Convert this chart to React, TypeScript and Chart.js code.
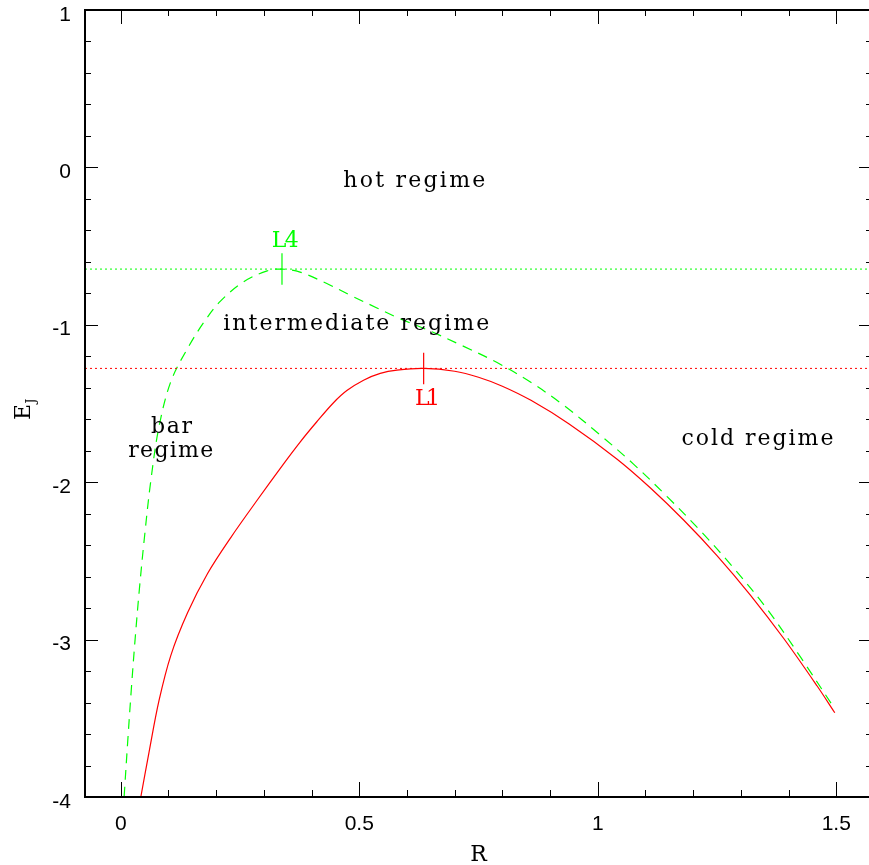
import React, { useEffect, useRef } from 'react';
import { Chart, registerables } from 'chart.js';

Chart.register(...registerables);

// ---- data ----
const redR = [0.042, 0.059, 0.080, 0.105, 0.140, 0.182, 0.231, 0.287, 0.341, 0.376, 0.411, 0.446, 0.474, 0.509, 0.544, 0.579, 0.635, 0.700, 0.750, 0.800, 0.860, 0.940, 1.040, 1.110, 1.180, 1.250, 1.320, 1.390, 1.460, 1.497];
const redE = [-4.00, -3.72, -3.39, -3.10, -2.83, -2.58, -2.35, -2.11, -1.885, -1.745, -1.616, -1.495, -1.418, -1.352, -1.309, -1.288, -1.277, -1.295, -1.333, -1.390, -1.480, -1.630, -1.852, -2.035, -2.240, -2.466, -2.717, -2.993, -3.295, -3.465];

const greenR = [0.007, 0.0145, 0.022, 0.030, 0.039, 0.050, 0.063, 0.080, 0.105, 0.140, 0.174, 0.209, 0.257, 0.307, 0.338, 0.376, 0.432, 0.481, 0.537, 0.579, 0.649, 0.719, 0.789, 0.858, 0.928, 1.005, 1.075, 1.145, 1.215, 1.285, 1.356, 1.426, 1.497];
const greenE = [-4.00, -3.65, -3.32, -3.00, -2.68, -2.34, -1.99, -1.65, -1.36, -1.15, -0.985, -0.850, -0.728, -0.657, -0.646, -0.665, -0.738, -0.812, -0.893, -0.953, -1.040, -1.137, -1.240, -1.362, -1.510, -1.700, -1.885, -2.090, -2.308, -2.545, -2.810, -3.115, -3.440];

const lagrangeLabels = ['L4', 'L1'];
const lagrangeR = [0.338, 0.635];
const lagrangeE = [-0.646, -1.277];

const xTickValues = [0, 0.5, 1, 1.5];
const xTickLabels = ['0', '0.5', '1', '1.5'];
const yTickValues = [1, 0, -1, -2, -3, -4];
const yTickLabels = ['1', '0', '-1', '-2', '-3', '-4'];

const xTitle = 'R';
const yTitleMain = 'E';
const yTitleSub = 'J';

const X_MIN = -0.075;
const X_MAX = 1.575;
const Y_MIN = -4;
const Y_MAX = 1;

// ---- styles / layout ----
const GREEN = '#00ff00';
const RED = '#ff0000';
const SERIF = '"DejaVu Serif", serif';
const SANS = '"Liberation Sans", Arial, sans-serif';

const annotations = [
  { text: 'hot regime', x: 0.6153, y: -0.1245, w: 142, color: '#000' },
  { text: 'intermediate regime', x: 0.4937, y: -1.033, w: 266, color: '#000' },
  { text: 'bar', x: 0.1063, y: -1.686, w: 41, color: '#000' },
  { text: 'regime', x: 0.1048, y: -1.840, w: 85, color: '#000' },
  { text: 'cold regime', x: 1.3348, y: -1.764, w: 152, color: '#000' },
  { text: lagrangeLabels[0], x: 0.3449, y: -0.504, w: 27, color: GREEN },
  { text: lagrangeLabels[1], x: 0.643, y: -1.5095, w: 25, color: RED },
];

const toXY = (xs: number[], ys: number[]) => xs.map((v, i) => ({ x: v, y: ys[i] }));

const axesPlugin = {
  id: 'pgAxes',
  afterDatasetsDraw(chart: any) {
    const { ctx, chartArea: a, scales } = chart;
    const x = scales.x;
    const y = scales.y;
    ctx.save();

    // ticks
    ctx.strokeStyle = '#000';
    ctx.lineWidth = 1;
    ctx.beginPath();
    for (let i = 0; i <= 15; i++) {
      const px = Math.round(x.getPixelForValue(i / 10)) + 0.5;
      const major = i % 5 === 0;
      const lb = major ? 15 : 7;
      const lt = major ? 14 : 6;
      ctx.moveTo(px, a.bottom);
      ctx.lineTo(px, a.bottom - lb);
      ctx.moveTo(px, a.top);
      ctx.lineTo(px, a.top + lt);
    }
    for (let i = 0; i <= 25; i++) {
      const py = Math.round(y.getPixelForValue(Y_MIN + i * 0.2)) + 0.5;
      const major = i % 5 === 0;
      const l = major ? 13 : 6;
      ctx.moveTo(a.left, py);
      ctx.lineTo(a.left + l, py);
      ctx.moveTo(a.right, py);
      ctx.lineTo(a.right - l, py);
    }
    ctx.stroke();

    // frame
    ctx.lineWidth = 2;
    ctx.strokeRect(a.left, a.top, a.right - a.left, a.bottom - a.top);

    // tick labels
    ctx.fillStyle = '#000';
    ctx.font = `21px ${SANS}`;
    ctx.textBaseline = 'alphabetic';
    ctx.textAlign = 'center';
    xTickValues.forEach((v, i) => {
      ctx.fillText(xTickLabels[i], x.getPixelForValue(v), a.bottom + 33);
    });
    ctx.textAlign = 'right';
    yTickValues.forEach((v, i) => {
      ctx.fillText(yTickLabels[i], 71, y.getPixelForValue(v) + 10.5);
    });

    // axis titles
    ctx.font = `22px ${SERIF}`;
    ctx.textAlign = 'center';
    ctx.fillText(xTitle, (a.left + a.right) / 2, 861);

    ctx.save();
    ctx.translate(29.5, 420);
    ctx.rotate(-Math.PI / 2);
    ctx.textAlign = 'left';
    ctx.font = `22px ${SERIF}`;
    ctx.fillText(yTitleMain, 0, 0);
    const ew = ctx.measureText(yTitleMain).width;
    ctx.font = `12px ${SERIF}`;
    ctx.fillText(yTitleSub, ew + 0.5, 5.5);
    ctx.restore();

    // annotations
    ctx.font = `22px ${SERIF}`;
    ctx.textAlign = 'left';
    annotations.forEach((an) => {
      (ctx as any).letterSpacing = '0px';
      const natural = ctx.measureText(an.text).width;
      const n = an.text.length;
      const ls = n > 1 ? (an.w - natural) / (n - 1) : 0;
      (ctx as any).letterSpacing = `${ls}px`;
      ctx.fillStyle = an.color;
      ctx.fillText(an.text, x.getPixelForValue(an.x) - an.w / 2, y.getPixelForValue(an.y));
    });
    (ctx as any).letterSpacing = '0px';
    ctx.restore();
  },
};

export default function App() {
  const canvasRef = useRef<HTMLCanvasElement | null>(null);

  useEffect(() => {
    if (!canvasRef.current) return;
    const markerHalf = 0.1;
    const chart = new Chart(canvasRef.current, {
      type: 'line',
      data: {
        datasets: [
          {
            label: 'L4 level',
            data: [{ x: X_MIN, y: lagrangeE[0] }, { x: X_MAX, y: lagrangeE[0] }],
            borderColor: GREEN,
            borderWidth: 1,
            borderDash: [2, 3],
            pointRadius: 0,
          },
          {
            label: 'L1 level',
            data: [{ x: X_MIN, y: lagrangeE[1] }, { x: X_MAX, y: lagrangeE[1] }],
            borderColor: RED,
            borderWidth: 1,
            borderDash: [2, 3],
            pointRadius: 0,
          },
          {
            label: 'ZVC L4',
            data: toXY(greenR, greenE),
            borderColor: GREEN,
            borderWidth: 1.2,
            borderDash: [10, 7],
            pointRadius: 0,
            tension: 0.35,
          },
          {
            label: 'ZVC L1',
            data: toXY(redR, redE),
            borderColor: RED,
            borderWidth: 1.2,
            pointRadius: 0,
            tension: 0.35,
          },
          {
            label: 'L4 mark',
            data: [
              { x: lagrangeR[0], y: lagrangeE[0] - markerHalf },
              { x: lagrangeR[0], y: lagrangeE[0] + markerHalf },
            ],
            borderColor: GREEN,
            borderWidth: 1.2,
            pointRadius: 0,
          },
          {
            label: 'L1 mark',
            data: [
              { x: lagrangeR[1], y: lagrangeE[1] - markerHalf },
              { x: lagrangeR[1], y: lagrangeE[1] + markerHalf },
            ],
            borderColor: RED,
            borderWidth: 1.2,
            pointRadius: 0,
          },
        ],
      },
      options: {
        responsive: false,
        animation: false,
        events: [],
        layout: { padding: { left: 85, top: 10, right: 1, bottom: 68 } },
        scales: {
          x: { type: 'linear', min: X_MIN, max: X_MAX, display: false },
          y: { type: 'linear', min: Y_MIN, max: Y_MAX, display: false },
        },
        plugins: {
          legend: { display: false },
          tooltip: { enabled: false },
        },
      } as any,
      plugins: [axesPlugin],
    });
    return () => chart.destroy();
  }, []);

  return (
    <div
      style={{
        position: 'absolute',
        left: 0,
        top: 0,
        width: 869,
        height: 865,
        overflow: 'hidden',
        background: '#fff',
      }}
    >
      <canvas ref={canvasRef} width={873} height={865} style={{ display: 'block', width: 873, height: 865 }} />
    </div>
  );
}
